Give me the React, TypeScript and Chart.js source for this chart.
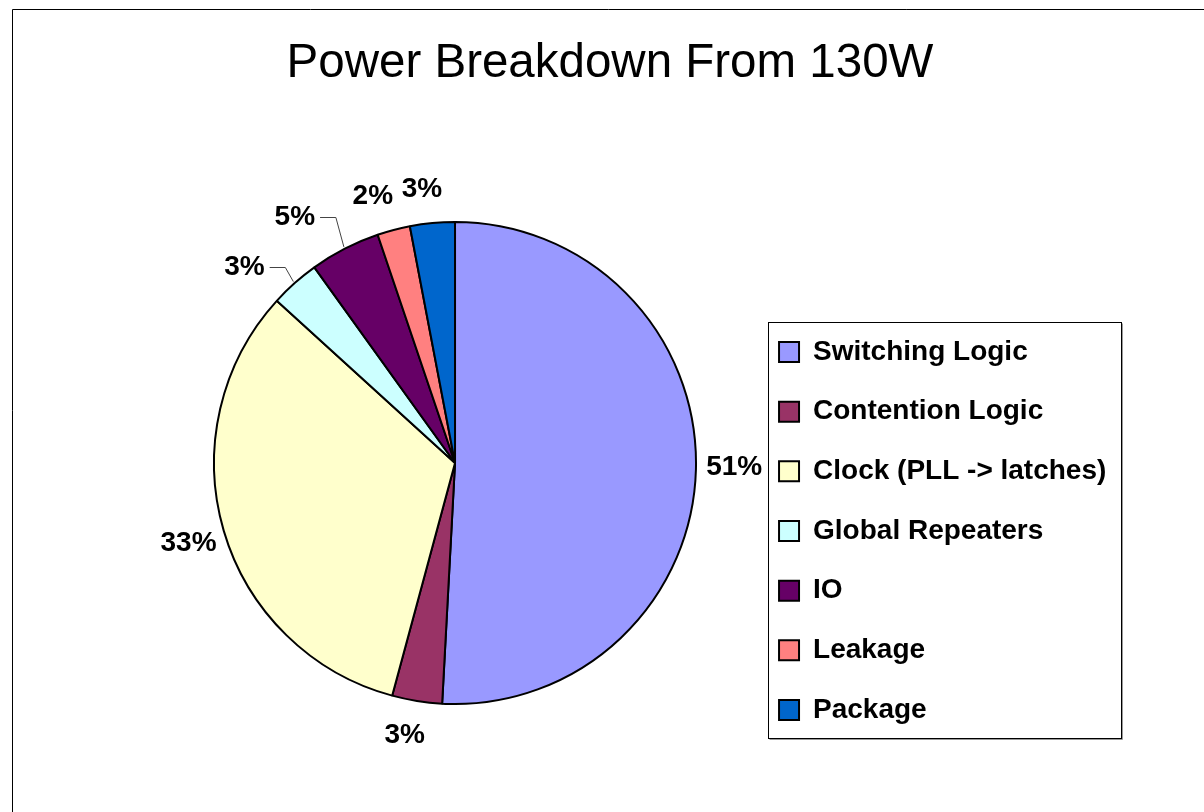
import React, { useEffect, useRef } from 'react';
import { Chart, registerables, layouts } from 'chart.js';

Chart.register(...registerables);

const titleText = 'Power Breakdown From 130W';
const categories = [
  'Switching Logic',
  'Contention Logic',
  'Clock (PLL -> latches)',
  'Global Repeaters',
  'IO',
  'Leakage',
  'Package',
];
const shares = [50.85, 3.35, 32.55, 3.33, 4.72, 2.2, 3.0];
const sliceColors = ['#9999FF', '#993366', '#FFFFCC', '#CCFFFF', '#660066', '#FF8080', '#0066CC'];

// label placement tweaks (styling, not data)
const labelNudge: number[][] = [[2, -3], [-9, 14], [1, 2], [-31, 5.5], [-38, -8.5], [-15, -12], [-8.5, -14]];
const labelLeader = [false, false, false, true, true, false, false];

const FONT = "'Liberation Sans', Arial, sans-serif";
const LEFT_SPACER = 59;

const spacerPlugin = {
  id: 'leftSpacer',
  beforeInit(chart: any) {
    const box: any = {
      position: 'left',
      weight: 100,
      fullSize: false,
      options: { display: false },
      left: 0, top: 0, right: 0, bottom: 0, width: 0, height: 0,
      isHorizontal() { return false; },
      update(_mw: number, mh: number) { this.width = LEFT_SPACER; this.height = mh; },
      draw() {},
    };
    layouts.addBox(chart, box);
  },
};

const framePlugin = {
  id: 'pageFrame',
  beforeDraw(chart: any) {
    const ctx = chart.ctx;
    ctx.save();
    ctx.fillStyle = '#fff';
    ctx.fillRect(0, 0, chart.width, chart.height);
    ctx.strokeStyle = '#000';
    ctx.lineWidth = 1;
    ctx.beginPath();
    ctx.moveTo(12.5, chart.height);
    ctx.lineTo(12.5, 9.5);
    ctx.lineTo(chart.width, 9.5);
    ctx.stroke();
    ctx.restore();
  },
};

const pctLabels = {
  id: 'pctLabels',
  afterDatasetsDraw(chart: any) {
    const ctx = chart.ctx;
    const meta = chart.getDatasetMeta(0);
    const data = chart.data.datasets[0].data as number[];
    const total = data.reduce((a, b) => a + b, 0);
    ctx.save();
    ctx.font = `bold 28px ${FONT}`;
    ctx.fillStyle = '#000';
    ctx.textAlign = 'center';
    ctx.textBaseline = 'middle';
    meta.data.forEach((el: any, i: number) => {
      const { x, y, startAngle, endAngle, outerRadius } = el.getProps(
        ['x', 'y', 'startAngle', 'endAngle', 'outerRadius'],
        true
      );
      const mid = (startAngle + endAngle) / 2;
      const dx = Math.cos(mid);
      const dy = Math.sin(mid);
      const text = Math.round((data[i] / total) * 100) + '%';
      const w = ctx.measureText(text).width;
      const h = 20;
      const ext = (Math.abs(dx) * w) / 2 + (Math.abs(dy) * h) / 2;
      const dist = outerRadius + 8 + ext;
      const lx = x + dx * dist + labelNudge[i][0];
      const ly = y + dy * dist + labelNudge[i][1];
      ctx.fillText(text, lx, ly);
      if (labelLeader[i]) {
        const ex = x + dx * (outerRadius + 2);
        const ey = y + dy * (outerRadius + 2);
        const yy = Math.round(ly) + 0.5;
        ctx.beginPath();
        ctx.moveTo(lx + w / 2 + 5, yy);
        ctx.lineTo(ex - 8, yy);
        ctx.lineTo(ex, ey);
        ctx.strokeStyle = '#444';
        ctx.lineWidth = 1;
        ctx.stroke();
      }
    });
    ctx.restore();
  },
};

const legendFrame = {
  id: 'legendFrame',
  afterDraw(chart: any) {
    const hb = chart.legend && chart.legend.legendHitBoxes;
    if (!hb || !hb.length) return;
    const left = Math.min(...hb.map((b: any) => b.left)) - 11;
    const right = Math.max(...hb.map((b: any) => b.left + b.width)) + 15;
    const top = hb[0].top - 16;
    const last = hb[hb.length - 1];
    const bottom = last.top + last.height + 14;
    const ctx = chart.ctx;
    ctx.save();
    ctx.strokeStyle = '#000';
    ctx.lineWidth = 1;
    const L = Math.round(left) + 0.5;
    const T = Math.round(top) + 0.5;
    const R = Math.round(right) + 0.5;
    const B = Math.round(bottom) + 0.5;
    ctx.strokeRect(L, T, R - L, B - T);
    ctx.strokeStyle = '#999';
    ctx.beginPath();
    ctx.moveTo(R + 1, T + 1);
    ctx.lineTo(R + 1, B + 1);
    ctx.lineTo(L + 1, B + 1);
    ctx.stroke();
    ctx.restore();
  },
};

export default function App() {
  const ref = useRef<HTMLCanvasElement | null>(null);
  useEffect(() => {
    if (!ref.current) return;
    const chart = new Chart(ref.current, {
      type: 'pie',
      data: {
        labels: categories,
        datasets: [
          {
            data: shares,
            backgroundColor: sliceColors,
            borderColor: '#000',
            borderWidth: 2,
          },
        ],
      },
      options: {
        responsive: false,
        animation: false,
        radius: 241,
        layout: { padding: { left: 103.67, right: 87.67, top: 20, bottom: 56.3 } },
        plugins: {
          title: {
            display: true,
            text: titleText,
            color: '#000',
            font: { family: FONT, size: 47.5, weight: 'normal', lineHeight: 1.2 },
            padding: { top: 15.5, bottom: 77.8 },
          },
          legend: {
            display: true,
            position: 'right',
            align: 'end',
            labels: {
              boxWidth: 20,
              boxHeight: 20,
              padding: 31.67,
              color: '#000',
              font: { family: FONT, size: 28, weight: 'bold' },
            },
          },
          tooltip: { enabled: false },
        },
      } as any,
      plugins: [spacerPlugin, framePlugin, pctLabels, legendFrame],
    });
    return () => chart.destroy();
  }, []);
  return (
    <div style={{ position: 'absolute', left: 0, top: 0, width: 1204, height: 812 }}>
      <canvas ref={ref} width={1204} height={812} style={{ display: 'block' }} />
    </div>
  );
}
